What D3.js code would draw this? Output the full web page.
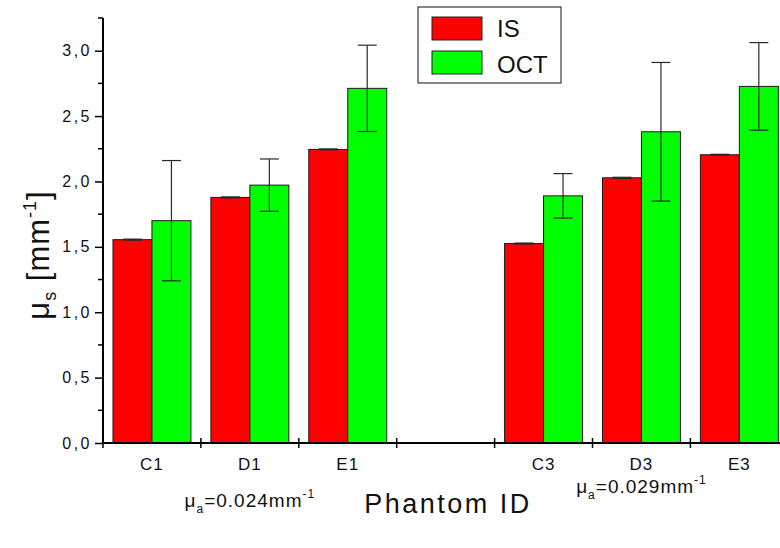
<!DOCTYPE html>
<html>
<head>
<meta charset="utf-8">
<script src="https://cdn.jsdelivr.net/npm/d3@7"></script>
<style>
  body { margin: 0; background: #fff; }
  svg { display: block; font-family: "Liberation Sans", Arial, sans-serif; }
</style>
</head>
<body>
<div id="vis"></div>
<script>
const margin = { top: 18, left: 103, bottom: 105 };
const W = 780, H = 548;

// one empty slot separates the two absorption groups
const categories = ["C1", "D1", "E1", "", "C3", "D3", "E3"];
const phantoms = ["C1", "D1", "E1", "C3", "D3", "E3"];
const series = ["IS", "OCT"];
const isValues = [1.555, 1.878, 2.245, 1.525, 2.028, 2.204];
const isErrors = [0.004, 0.004, 0.004, 0.004, 0.004, 0.004];
const octValues = [1.70, 1.972, 2.712, 1.89, 2.38, 2.727];
const octErrors = [0.46, 0.20, 0.33, 0.17, 0.53, 0.335];
const yTicks = [0, 0.5, 1.0, 1.5, 2.0, 2.5, 3.0];
const yMinor = [0.25, 0.75, 1.25, 1.75, 2.25, 2.75, 3.25];
const groupLabels = [
  { at: "D1", value: "0.024", dy: 507 },
  { at: "D3", value: "0.029", dy: 493 }
];
const colors = { IS: "#ff0000", OCT: "#00ff00" };

const svg = d3.select("#vis").append("svg").attr("width", W).attr("height", H);

const y = d3.scaleLinear().domain([0, 3.25]).range([H - margin.bottom, margin.top]);
const slotW = 97.9;
const x = d3.scaleBand().domain(categories)
  .range([margin.left, margin.left + slotW * categories.length]).padding(0);
const xs = d3.scaleBand().domain(series).range([0, x.bandwidth()]).paddingOuter(0.256).paddingInner(0);

const rows = phantoms.map((p, i) => ({
  id: p,
  IS: isValues[i], ISerr: isErrors[i],
  OCT: octValues[i], OCTerr: octErrors[i]
}));

// bars
const g = svg.append("g");
rows.forEach(r => {
  series.forEach(s => {
    g.append("rect")
      .attr("x", x(r.id) + xs(s))
      .attr("y", y(r[s]))
      .attr("width", xs.bandwidth())
      .attr("height", y(0) - y(r[s]))
      .attr("fill", colors[s])
      .attr("stroke", "#1a1a1a")
      .attr("stroke-width", 1);
  });
});

// error bars
rows.forEach(r => {
  series.forEach(s => {
    const cx = x(r.id) + xs(s) + xs.bandwidth() / 2;
    const hi = y(r[s] + r[s + "err"]), lo = y(r[s] - r[s + "err"]);
    const eg = g.append("g").attr("stroke", "#2a2a2a").attr("stroke-width", 1.2);
    eg.append("line").attr("x1", cx).attr("x2", cx).attr("y1", hi).attr("y2", lo);
    eg.append("line").attr("x1", cx - 9.5).attr("x2", cx + 9.5).attr("y1", hi).attr("y2", hi);
    eg.append("line").attr("x1", cx - 9.5).attr("x2", cx + 9.5).attr("y1", lo).attr("y2", lo);
  });
});

// y axis
const fmt = d => d3.format(".1f")(d).replace(".", ",");
const yAxis = svg.append("g")
  .attr("transform", `translate(${margin.left},0)`)
  .call(d3.axisLeft(y).tickValues(yTicks).tickSize(8).tickSizeOuter(0).tickPadding(3).tickFormat(fmt));
yAxis.select(".domain").attr("stroke-width", 2).attr("d", `M0,${y(0)}V${margin.top}`);
yAxis.selectAll(".tick line").attr("stroke-width", 1.5);
yAxis.selectAll("text").attr("font-size", 16).attr("fill", "#111")
  .attr("letter-spacing", 2.5)
  .attr("font-family", "Liberation Sans, Arial, sans-serif");
svg.append("g").attr("transform", `translate(${margin.left},0)`)
  .selectAll("line").data(yMinor).join("line")
  .attr("x1", -5).attr("x2", 0).attr("y1", d => y(d)).attr("y2", d => y(d))
  .attr("stroke", "#000").attr("stroke-width", 1.5);

// x axis: ticks at slot boundaries, labels at slot centres
const x0 = y(0);
svg.append("line").attr("x1", margin.left).attr("x2", W).attr("y1", x0).attr("y2", x0)
  .attr("stroke", "#000").attr("stroke-width", 2);
svg.append("g").selectAll("line").data(categories).join("line")
  .attr("x1", d => x(d)).attr("x2", d => x(d))
  .attr("y1", x0 - 5).attr("y2", x0 + 5)
  .attr("stroke", "#000").attr("stroke-width", 1.5);
svg.append("g").selectAll("text").data(phantoms).join("text")
  .attr("x", d => x(d) + x.bandwidth() / 2)
  .attr("y", x0 + 27)
  .attr("text-anchor", "middle")
  .attr("font-size", 17)
  .attr("letter-spacing", 1)
  .attr("fill", "#111")
  .text(d => d);

// absorption labels
groupLabels.forEach(gl => {
  const t = svg.append("text")
    .attr("x", x(gl.at) + x.bandwidth() / 2)
    .attr("y", gl.dy)
    .attr("text-anchor", "middle")
    .attr("font-size", 19)
    .attr("letter-spacing", 1)
    .attr("fill", "#111");
  t.append("tspan").text("\u03bc");
  t.append("tspan").attr("font-size", 12).attr("dy", 6).text("a");
  t.append("tspan").attr("dy", -6).text("=" + gl.value + "mm");
  t.append("tspan").attr("font-size", 12).attr("dy", -9).text("-1");
});

// axis titles
svg.append("text")
  .attr("x", 448).attr("y", 513)
  .attr("text-anchor", "middle")
  .attr("font-size", 27)
  .attr("letter-spacing", 2.5)
  .attr("fill", "#111")
  .text("Phantom ID");

const yt = svg.append("text")
  .attr("transform", "translate(49,255) rotate(-90)")
  .attr("text-anchor", "middle")
  .attr("font-size", 31)
  .attr("letter-spacing", 1)
  .attr("fill", "#111");
yt.append("tspan").text("\u03bc");
yt.append("tspan").attr("font-size", 18).attr("dy", 7).text("s");
yt.append("tspan").attr("dy", -7).text(" [mm");
yt.append("tspan").attr("font-size", 18).attr("dy", -13).text("-1");
yt.append("tspan").attr("dy", 13).text("]");

// legend
const lg = svg.append("g");
lg.append("rect").attr("x", 418).attr("y", 7).attr("width", 143).attr("height", 76)
  .attr("fill", "#fff").attr("stroke", "#111").attr("stroke-width", 1);
series.forEach((s, i) => {
  lg.append("rect").attr("x", 432).attr("y", 17 + i * 34).attr("width", 50).attr("height", 23)
    .attr("fill", colors[s]).attr("stroke", "#222");
  lg.append("text").attr("x", 497).attr("y", 37 + i * 36)
    .attr("font-size", 24).attr("fill", "#111").text(s);
});
</script>
</body>
</html>
